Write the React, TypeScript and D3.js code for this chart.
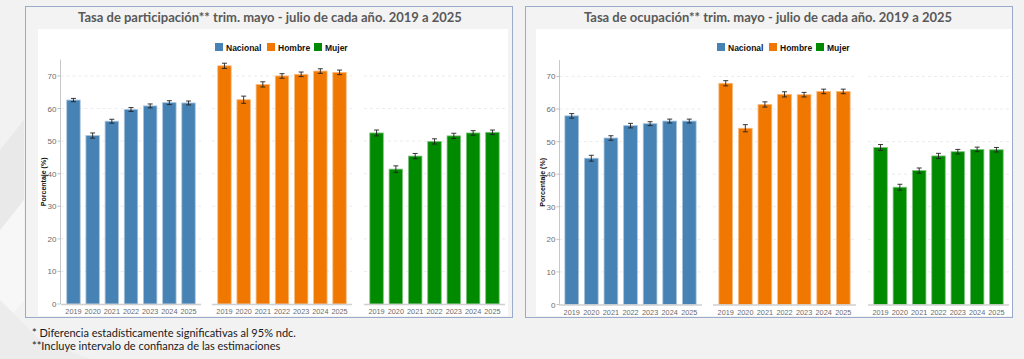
import React from 'react';
import * as d3 from 'd3';

const years = ['2019', '2020', '2021', '2022', '2023', '2024', '2025'];
const groups = ['Nacional', 'Hombre', 'Mujer'];
const groupColors = ['#4682b4', '#f07800', '#008a00'];
const groupStroke = ['#a9c4dd', '#f8bb80', '#80c480'];
const yTicks = [0, 10, 20, 30, 40, 50, 60, 70];

// Tasa de participación
const partNacional = [62.6, 51.7, 56.1, 59.7, 60.8, 61.8, 61.7];
const partNacionalErr = [0.5, 0.8, 0.6, 0.6, 0.6, 0.6, 0.6];
const partHombre = [73.1, 62.7, 67.4, 70.0, 70.5, 71.5, 71.1];
const partHombreErr = [0.8, 1.1, 0.8, 0.7, 0.7, 0.7, 0.7];
const partMujer = [52.5, 41.4, 45.4, 49.9, 51.6, 52.5, 52.7];
const partMujerErr = [0.9, 1.0, 0.8, 0.8, 0.8, 0.7, 0.7];

// Tasa de ocupación
const ocupNacional = [57.9, 44.9, 51.1, 54.9, 55.5, 56.3, 56.3];
const ocupNacionalErr = [0.7, 0.9, 0.7, 0.7, 0.6, 0.6, 0.6];
const ocupHombre = [67.9, 54.1, 61.4, 64.5, 64.4, 65.4, 65.4];
const ocupHombreErr = [0.8, 1.1, 0.8, 0.8, 0.7, 0.7, 0.7];
const ocupMujer = [48.2, 36.0, 41.1, 45.6, 46.9, 47.6, 47.5];
const ocupMujerErr = [0.9, 0.9, 0.8, 0.8, 0.7, 0.7, 0.7];

const titles = [
  'Tasa de participación** trim. mayo - julio de cada año. 2019 a 2025',
  'Tasa de ocupación** trim.  mayo - julio de cada año. 2019 a 2025',
];
const footnotes = [
  '* Diferencia estadísticamente significativas al 95% ndc.',
  '**Incluye intervalo de confianza de las estimaciones',
];

type PanelCfg = {
  title: string;
  box: [number, number, number, number];
  white: [number, number, number, number];
  titleX: number;
  legendX: number;
  axisX: number;
  yBottom: number;
  facets: [number, number][];
  values: number[][];
  errs: number[][];
};

const panels: PanelCfg[] = [
  {
    title: titles[0],
    box: [25.5, 6.5, 487, 311],
    white: [38, 29, 470, 287],
    titleX: 270,
    legendX: 215,
    axisX: 60.5,
    yBottom: 304,
    facets: [[61, 201], [212, 352], [364, 505]],
    values: [partNacional, partHombre, partMujer],
    errs: [partNacionalErr, partHombreErr, partMujerErr],
  },
  {
    title: titles[1],
    box: [525.5, 6.5, 487, 311],
    white: [536, 29, 476, 287],
    titleX: 768,
    legendX: 717,
    axisX: 559.5,
    yBottom: 304.5,
    facets: [[559, 702], [713, 856], [868, 1009]],
    values: [ocupNacional, ocupHombre, ocupMujer],
    errs: [ocupNacionalErr, ocupHombreErr, ocupMujerErr],
  },
];

const legendOffsets = [0, 52, 99];

function Panel({ p }: { p: PanelCfg }) {
  const y = d3.scaleLinear().domain([0, 75]).range([p.yBottom, p.yBottom - 75 * 3.258]);
  const tickFont = { fontFamily: 'Liberation Sans, Arial, sans-serif', fontSize: 8, fill: '#6b6b6b' };
  const xTickFont = { fontFamily: 'Liberation Sans, Arial, sans-serif', fontSize: 7.3, fill: '#6b6b6b' };
  return (
    <g>
      <rect x={p.box[0]} y={p.box[1]} width={p.box[2]} height={p.box[3]} fill="#f3f3f3" stroke="#9aaacb" strokeWidth={1} />
      <rect x={p.white[0]} y={p.white[1]} width={p.white[2]} height={p.white[3]} fill="#ffffff" />
      <text x={p.titleX} y={22} textAnchor="middle" fontFamily="Lato, 'Open Sans', sans-serif" fontWeight={700} fontSize={13} fill="#595959">
        {p.title}
      </text>
      {groups.map((g, i) => (
        <g key={g} transform={`translate(${p.legendX + legendOffsets[i]},43)`}>
          <rect x={0} y={0} width={8} height={8} fill={groupColors[i]} />
          <text x={11} y={7.5} fontFamily="Liberation Sans, Arial, sans-serif" fontWeight={700} fontSize={8.5} fill="#111">
            {g}
          </text>
        </g>
      ))}
      {p.facets.map((f, fi) =>
        yTicks.filter((t) => t > 0).map((t) => (
          <line key={`${fi}-${t}`} x1={fi === 0 ? p.axisX : f[0]} x2={f[1]} y1={y(t)} y2={y(t)} stroke="#e6e6e6" strokeWidth={0.8} strokeDasharray="3,3" />
        ))
      )}
      <line x1={p.axisX} x2={p.axisX} y1={y(75)} y2={y(0)} stroke="#c8c8c8" strokeWidth={1} />
      {yTicks.map((t) => (
        <g key={t}>
          <line x1={p.axisX - 3} x2={p.axisX} y1={y(t)} y2={y(t)} stroke="#b0b0b0" strokeWidth={0.8} />
          <text x={p.axisX - 4} y={y(t) + 3} textAnchor="end" {...tickFont}>
            {t}
          </text>
        </g>
      ))}
      <text
        transform={`translate(${p.axisX - 15},${y(37.5)}) rotate(-90)`}
        textAnchor="middle"
        fontFamily="Liberation Sans, Arial, sans-serif"
        fontWeight={700}
        fontSize={7}
        fill="#111"
      >
        Porcentaje (%)
      </text>
      {p.facets.map((f, fi) => {
        const x = d3.scaleBand().domain(years).range(f).paddingInner(0.3).paddingOuter(0.3);
        const bw = x.bandwidth();
        return (
          <g key={fi}>
            {years.map((yr, i) => {
              const v = p.values[fi][i];
              const e = p.errs[fi][i];
              const cx = (x(yr) as number) + bw / 2;
              return (
                <g key={yr}>
                  <rect x={x(yr)} y={y(v)} width={bw} height={y(0) - y(v)} fill={groupColors[fi]} stroke={groupStroke[fi]} strokeWidth={0.8} />
                  <line x1={cx} x2={cx} y1={y(v + e)} y2={y(v - e)} stroke="#222" strokeWidth={0.9} />
                  <line x1={cx - 2.5} x2={cx + 2.5} y1={y(v + e)} y2={y(v + e)} stroke="#222" strokeWidth={0.9} />
                  <line x1={cx - 2.5} x2={cx + 2.5} y1={y(v - e)} y2={y(v - e)} stroke="#222" strokeWidth={0.9} />
                  <text x={cx} y={y(0) + 10} textAnchor="middle" {...xTickFont}>
                    {yr}
                  </text>
                </g>
              );
            })}
            <line x1={f[0]} x2={f[1]} y1={y(0) + 0.5} y2={y(0) + 0.5} stroke="#cfcfcf" strokeWidth={1.5} />
          </g>
        );
      })}
    </g>
  );
}

export default function App() {
  return (
    <svg width={1024} height={359} style={{ position: 'absolute', left: 0, top: 0, display: 'block' }}>
      <rect x={0} y={0} width={1024} height={359} fill="#f2f2f2" />
      <polygon points="0,150 24,120 24,250 0,290" fill="#e9e9e9" />
      <polygon points="0,230 24,200 24,300 0,330" fill="#f7f7f7" />
      <polygon points="0,300 40,340 90,359 0,359" fill="#ececec" />
      {panels.map((p, i) => (
        <Panel key={i} p={p} />
      ))}
      {footnotes.map((t, i) => (
        <text key={i} x={32} y={336.5 + i * 13.3} fontFamily="Lato, 'Open Sans', sans-serif" fontSize={11} fill="#1a1a1a">
          {t}
        </text>
      ))}
    </svg>
  );
}
